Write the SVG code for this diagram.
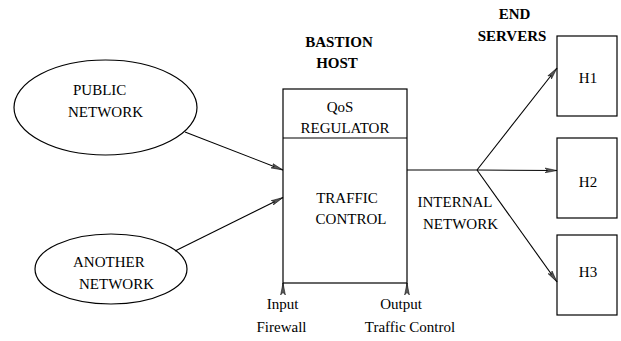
<svg xmlns="http://www.w3.org/2000/svg" width="621" height="341" viewBox="0 0 621 341">
  <style>
    .shape { fill: #fff; stroke: #000; stroke-width: 1.2; }
    .t { font-family: "Liberation Serif", "Times New Roman", serif; font-size: 15px; fill: #000; }
    .b { font-weight: bold; }
    .wire { fill: none; stroke: #000; stroke-width: 1.1; }
  </style>
  <defs>
    <marker id="arrow" viewBox="0 0 12 6" refX="12" refY="3" markerWidth="12" markerHeight="6" markerUnits="userSpaceOnUse" orient="auto">
      <path d="M0,0.6 L12,3 L0,5.4 L2.5,3 Z" fill="#555" stroke="#000" stroke-width="0.5"/>
    </marker>
  </defs>
  <rect width="621" height="341" fill="#fff"/>

  <g id="public-network">
    <ellipse class="shape" cx="105.5" cy="107.5" rx="91.5" ry="47.5"/>
    <text class="t" x="73" y="95">PUBLIC</text>
    <text class="t" x="68" y="117">NETWORK</text>
  </g>

  <g id="another-network">
    <ellipse class="shape" cx="111" cy="269" rx="76" ry="35"/>
    <text class="t" x="73" y="267">ANOTHER</text>
    <text class="t" x="79" y="289">NETWORK</text>
  </g>

  <g id="bastion-host">
    <text class="t b" x="339" y="47" text-anchor="middle">BASTION</text>
    <text class="t b" x="337" y="68" text-anchor="middle">HOST</text>
    <rect class="shape" x="283" y="89" width="124" height="194"/>
    <line class="wire" x1="283" y1="138" x2="407" y2="138"/>
    <text class="t" x="340" y="112" text-anchor="middle">QoS</text>
    <text class="t" x="345" y="133" text-anchor="middle">REGULATOR</text>
    <text class="t" x="347" y="203" text-anchor="middle">TRAFFIC</text>
    <text class="t" x="351" y="224" text-anchor="middle">CONTROL</text>
    <text class="t" x="282.5" y="309" text-anchor="middle">Input</text>
    <text class="t" x="281.5" y="332" text-anchor="middle">Firewall</text>
    <text class="t" x="401" y="309" text-anchor="middle">Output</text>
    <text class="t" x="410" y="332" text-anchor="middle">Traffic Control</text>
  </g>

  <g id="end-servers">
    <text class="t b" x="514.5" y="19" text-anchor="middle">END</text>
    <text class="t b" x="512" y="41" text-anchor="middle">SERVERS</text>
  </g>

  <g id="h1">
    <rect class="shape" x="557" y="36" width="60" height="80"/>
    <text class="t" x="588" y="83" text-anchor="middle">H1</text>
  </g>
  <g id="h2">
    <rect class="shape" x="557" y="138" width="60" height="80"/>
    <text class="t" x="588" y="187" text-anchor="middle">H2</text>
  </g>
  <g id="h3">
    <rect class="shape" x="557" y="235" width="60" height="80"/>
    <text class="t" x="588" y="277" text-anchor="middle">H3</text>
  </g>

  <g id="internal-network-label">
    <text class="t" x="455" y="207" text-anchor="middle">INTERNAL</text>
    <text class="t" x="460.5" y="229" text-anchor="middle">NETWORK</text>
  </g>

  <g id="connectors">
    <line class="wire" x1="185" y1="132" x2="283" y2="170" marker-end="url(#arrow)"/>
    <line class="wire" x1="175" y1="251" x2="283" y2="197.5" marker-end="url(#arrow)"/>
    <line class="wire" x1="407" y1="170" x2="477" y2="170"/>
    <line class="wire" x1="477" y1="170" x2="557" y2="170.5" marker-end="url(#arrow)"/>
    <line class="wire" x1="477" y1="170" x2="557" y2="68" marker-end="url(#arrow)"/>
    <line class="wire" x1="477" y1="170" x2="557" y2="282" marker-end="url(#arrow)"/>
    <line class="wire" x1="283" y1="291" x2="283" y2="283" marker-end="url(#arrow)"/>
    <line class="wire" x1="407" y1="291" x2="407" y2="283" marker-end="url(#arrow)"/>
  </g>
</svg>
